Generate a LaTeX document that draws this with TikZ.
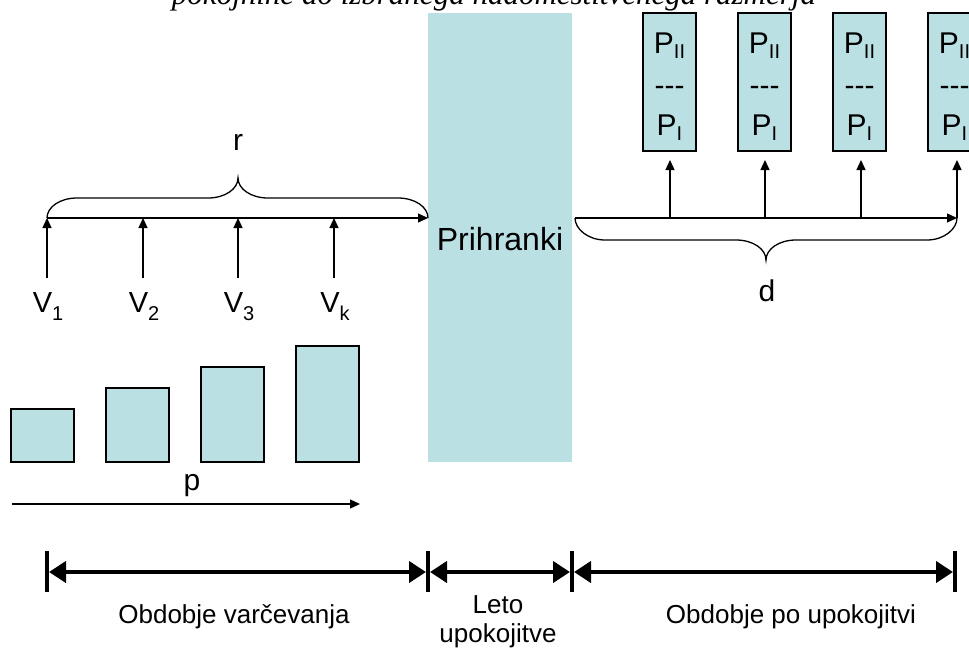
\documentclass[tikz,border=0pt]{standalone}
\usepackage{fontspec}
\setmainfont{Liberation Sans}
\newfontfamily\titlefont{Liberation Serif}
\usetikzlibrary{arrows.meta}
\definecolor{paleblue}{RGB}{187,224,227}
\newcommand\fsz[1]{\fontsize{#1}{#1}\selectfont}
\newcommand\lowered[3]{\raisebox{-#1pt}{\fsz{#2}#3}}
\tikzset{
  thinline/.style={line width=1.3pt},
  thinarrow/.style={line width=1.3pt,-{Triangle[length=10pt,width=9pt]}},
  spanarrow/.style={line width=4pt,{Triangle[length=17pt,width=21pt]}-{Triangle[length=17pt,width=21pt]}},
  tickbar/.style={line width=4pt},
  bar/.style={draw=black,line width=1.3pt,fill=paleblue},
  label/.style={anchor=base,inner sep=0pt,font=\fsz{30}},
  steplabel/.style={anchor=base,inner sep=0pt,font=\fsz{26}},
}
\begin{document}
\begin{tikzpicture}[x=1pt,y=-1pt]
\useasboundingbox (0,0) rectangle (969,648);
\clip (0,0) rectangle (969,648);

% heading line, mostly above the page edge
\node[anchor=base,inner sep=0pt] (title) at (494,4)
  {\titlefont\itshape\fsz{31}pokojnine do izbranega nadomestitvenega razmerja};

% savings block
\fill[paleblue] (428,13) rectangle (572,462);
\node[anchor=base,inner sep=0pt,font=\fsz{32}] (savings) at (500,250) {Prihranki};

% pension boxes
\foreach \i/\x in {1/643,2/738,3/833,4/928}{
  \draw[bar] (\x,13) rectangle ++(53,138);
  \node[label] (pii\i) at (\x+26.5,53) {P\lowered{5}{20}{II}};
  \node[label] (dash\i) at (\x+26.5,95) {-{}-{}-};
  \node[label] (pi\i) at (\x+26.5,135) {P\lowered{5}{20}{I}};
}

% contribution bars
\draw[bar] (11,409) rectangle (74,462);
\draw[bar] (106,388) rectangle (169,462);
\draw[bar] (201,367) rectangle (264,462);
\draw[bar] (296,346) rectangle (359,462);

% saving-phase time line
\coordinate (lstart) at (47,218);
\coordinate (lend) at (428,218);
\draw[thinarrow] (lstart) -- (lend);
\foreach \n/\x/\s in {1/47/1,2/143/2,3/238/3,4/334/k}{
  \coordinate (vfoot\n) at (\x,278);
  \coordinate (vtip\n) at (\x,218);
  \draw[thinarrow] (vfoot\n) -- (vtip\n);
  \node[label,font=\fsz{29}] (v\n) at (\x+1,312) {V\lowered{8}{20}{\s}};
}
% brace r
\draw[thinline] (lstart) .. controls (47,207) and (60,198) .. (77,198)
  -- (208,198) .. controls (225,198) and (238,189) .. (238,178)
  .. controls (238,189) and (251,198) .. (268,198)
  -- (398,198) .. controls (415,198) and (428,207) .. (lend);
\node[label] (r) at (238,150) {r};

% payout time line
\coordinate (rstart) at (575,218);
\coordinate (rend) at (957,218);
\draw[thinarrow] (rstart) -- (rend);
\foreach \n/\x in {1/670,2/765,3/861,4/957}{
  \coordinate (pfoot\n) at (\x,218);
  \coordinate (ptip\n) at (\x,160);
  \draw[thinarrow] (pfoot\n) -- (ptip\n);
}
% brace d
\draw[thinline] (rstart) .. controls (575,229) and (588,240) .. (605,240)
  -- (736,240) .. controls (753,240) and (766,249) .. (766,260)
  .. controls (766,249) and (779,240) .. (796,240)
  -- (927,240) .. controls (944,240) and (957,229) .. (rend);
\node[label] (d) at (767,301) {d};

% growth arrow
\coordinate (pstart) at (12,504);
\coordinate (pend) at (360,504);
\draw[thinarrow] (pstart) -- (pend);
\node[label] (p) at (192,490) {p};

% period scale
\foreach \n/\x in {1/47,2/428,3/572,4/955}{
  \coordinate (tt\n) at (\x,551);
  \coordinate (tb\n) at (\x,592);
  \coordinate (tm\n) at (\x,572);
  \draw[tickbar] (tt\n) -- (tb\n);
}
\draw[spanarrow] ([xshift=2pt]tm1) -- ([xshift=-2pt]tm2);
\draw[spanarrow] ([xshift=2pt]tm2) -- ([xshift=-2pt]tm3);
\draw[spanarrow] ([xshift=2pt]tm3) -- ([xshift=-2pt]tm4);

\node[steplabel] (phase1) at (234,623) {Obdobje varčevanja};
\node[steplabel] (phase2a) at (498,613) {Leto};
\node[steplabel] (phase2b) at (498,642) {upokojitve};
\node[steplabel] (phase3) at (791,623) {Obdobje po upokojitvi};
\end{tikzpicture}
\end{document}
